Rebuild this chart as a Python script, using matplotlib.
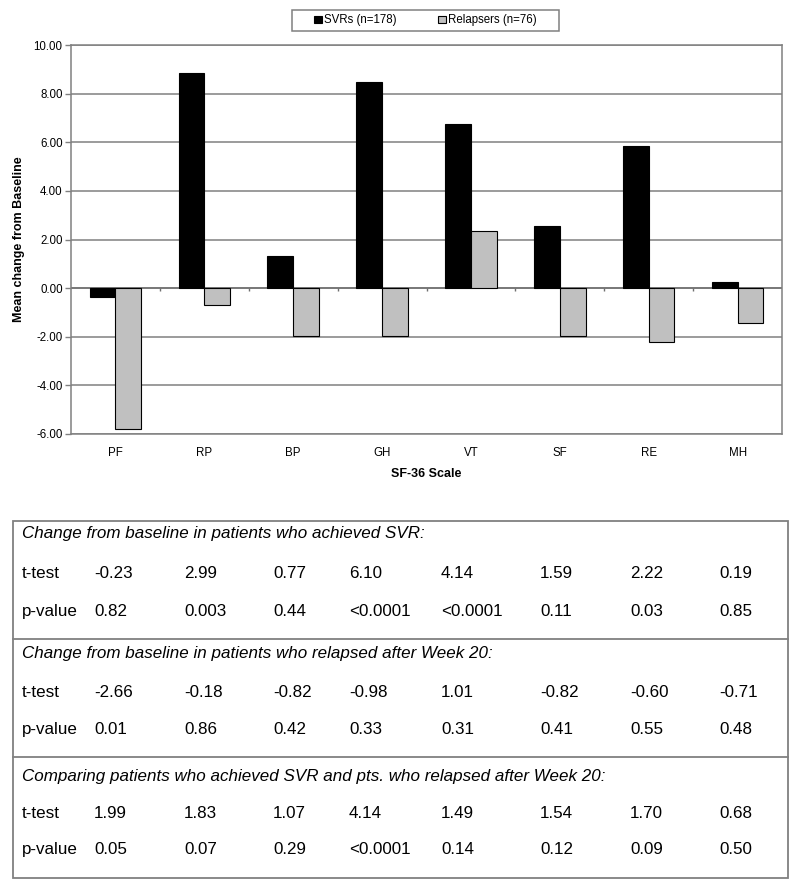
import matplotlib
matplotlib.use("Agg")
import matplotlib.pyplot as plt
from matplotlib.patches import Rectangle, Patch
from matplotlib.lines import Line2D
import numpy as np

plt.rcParams['font.family'] = ['Liberation Sans', 'DejaVu Sans']

# ---------------- data ----------------
categories = ["PF", "RP", "BP", "GH", "VT", "SF", "RE", "MH"]
svr_values = [-0.37, 8.86, 1.32, 8.46, 6.76, 2.54, 5.84, 0.26]
relapser_values = [-5.79, -0.68, -1.98, -1.98, 2.37, -1.98, -2.21, -1.42]
series_labels = ["SVRs (n=178)", "Relapsers (n=76)"]
y_ticks = [-6, -4, -2, 0, 2, 4, 6, 8, 10]

section_titles = [
    "Change from baseline in patients who achieved SVR:",
    "Change from baseline in patients who relapsed after Week 20:",
    "Comparing patients who achieved SVR and pts. who relapsed after Week 20:",
]
row_labels = ["t-test", "p-value"]
svr_ttest = ["-0.23", "2.99", "0.77", "6.10", "4.14", "1.59", "2.22", "0.19"]
svr_pvalue = ["0.82", "0.003", "0.44", "<0.0001", "<0.0001", "0.11", "0.03", "0.85"]
rel_ttest = ["-2.66", "-0.18", "-0.82", "-0.98", "1.01", "-0.82", "-0.60", "-0.71"]
rel_pvalue = ["0.01", "0.86", "0.42", "0.33", "0.31", "0.41", "0.55", "0.48"]
cmp_ttest = ["1.99", "1.83", "1.07", "4.14", "1.49", "1.54", "1.70", "0.68"]
cmp_pvalue = ["0.05", "0.07", "0.29", "<0.0001", "0.14", "0.12", "0.09", "0.50"]

# ---------------- figure ----------------
W, H = 800, 884
fig = plt.figure(figsize=(W / 100, H / 100), dpi=100)
def fx(px):
    return px / W
def fy(py):
    return 1 - py / H

GRID = "#808080"
ax = fig.add_axes([fx(71), fy(434), fx(782) - fx(71), (434 - 45) / H])

x = np.arange(len(categories))
bw = 0.29
ax.bar(x - bw / 2, svr_values, bw, color="black", edgecolor="black",
       linewidth=0.8, label=series_labels[0], zorder=3)
ax.bar(x + bw / 2, relapser_values, bw, color="#c0c0c0", edgecolor="black",
       linewidth=0.8, label=series_labels[1], zorder=3)

ax.set_xlim(-0.5, len(categories) - 0.5)
ax.set_ylim(-6, 10)
ax.set_yticks(y_ticks)
ax.set_yticklabels([f"{v:.2f}" for v in y_ticks], fontsize=8.3)
ax.set_xticks(x)
ax.set_xticklabels(categories, fontsize=8.3)
ax.tick_params(axis="x", length=0, pad=9)
ax.tick_params(axis="y", length=4, width=1, color=GRID, pad=2)
ax.yaxis.grid(True, color=GRID, linewidth=1.1, zorder=0)
ax.set_axisbelow(True)
for s in ax.spines.values():
    s.set_color(GRID)
    s.set_linewidth(1.1)
ax.axhline(0, color="#707070", linewidth=1.1, zorder=2)
# category boundary ticks on the zero line
ax.vlines(np.arange(len(categories) - 1) + 0.5, -0.13, 0, color="#707070",
          linewidth=1, zorder=2)

ax.set_ylabel("Mean change from Baseline", fontsize=9, fontweight="bold")
ax.yaxis.set_label_coords((19 - 71) / 711, 0.5)
ax.yaxis.label.set_va("center")
ax.set_xlabel("SF-36 Scale", fontsize=9, fontweight="bold")
ax.xaxis.set_label_coords(0.5, (434 - 474) / 389)
ax.xaxis.label.set_va("center")

# legend
fig.add_artist(Rectangle((fx(292), fy(31)), fx(559) - fx(292), (31 - 10) / H,
                         transform=fig.transFigure, facecolor="white",
                         edgecolor=GRID, linewidth=1.1))
handles = [Patch(facecolor="black", edgecolor="black", linewidth=0.8),
           Patch(facecolor="#c0c0c0", edgecolor="black", linewidth=0.8)]
fig.legend(handles, series_labels, loc="center",
           bbox_to_anchor=(fx(425.5), fy(20.5)), ncol=2, frameon=False,
           fontsize=8.3, handlelength=0.65, handleheight=0.65,
           handletextpad=0.2, columnspacing=3.6, borderpad=0)

# ---------------- table ----------------
box_l, box_r, box_t, box_b = 12.7, 788.3, 521, 878
fig.add_artist(Rectangle((fx(box_l), fy(box_b)), fx(box_r) - fx(box_l),
                         (box_b - box_t) / H, transform=fig.transFigure,
                         facecolor="none", edgecolor=GRID, linewidth=1.3))
for sep in [639, 757]:
    fig.add_artist(Line2D([fx(box_l), fx(box_r)], [fy(sep), fy(sep)],
                          transform=fig.transFigure, color=GRID, linewidth=1.3))

col_x = [94, 184, 273, 349, 441, 540, 630, 719]
label_x = 21.5
TFS = 12.25
sections = [
    (section_titles[0], [svr_ttest, svr_pvalue], [538, 578, 616]),
    (section_titles[1], [rel_ttest, rel_pvalue], [658, 697, 734]),
    (section_titles[2], [cmp_ttest, cmp_pvalue], [781, 818, 854]),
]
for title, rows, ys in sections:
    fig.text(fx(label_x), fy(ys[0]), title, fontsize=TFS, style="italic",
             va="baseline", ha="left")
    for lab, vals, yy in zip(row_labels, rows, ys[1:]):
        fig.text(fx(label_x), fy(yy), lab, fontsize=TFS, va="baseline", ha="left")
        for cx, v in zip(col_x, vals):
            fig.text(fx(cx), fy(yy), v, fontsize=TFS, va="baseline", ha="left")

fig.savefig("out.png", dpi=100)
